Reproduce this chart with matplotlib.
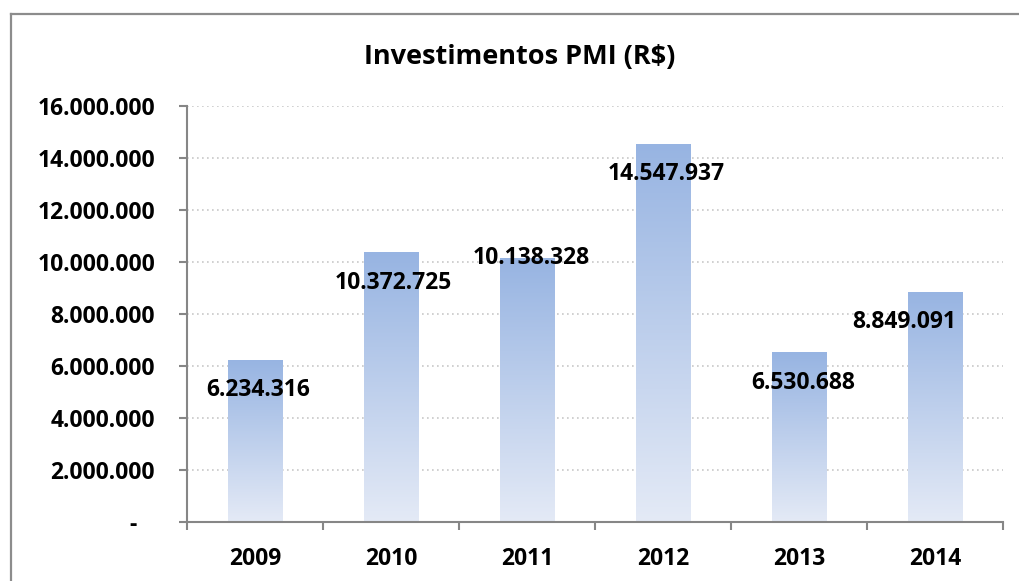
import numpy as np
import matplotlib
matplotlib.use("Agg")
import matplotlib.pyplot as plt
from matplotlib.lines import Line2D
from matplotlib.colors import LinearSegmentedColormap
from matplotlib.ticker import FixedLocator

plt.rcParams["font.family"] = ["Open Sans", "DejaVu Sans"]
plt.rcParams["font.weight"] = "bold"

# data
years = ["2009", "2010", "2011", "2012", "2013", "2014"]
values = [6234316, 10372725, 10138328, 14547937, 6530688, 8849091]
y_ticks = [0, 2e6, 4e6, 6e6, 8e6, 10e6, 12e6, 14e6, 16e6]
title = "Investimentos PMI (R$)"

# label nudges in points (dx, dy) relative to bar top
label_offsets = [(2, -22), (2, -22), (3, 0), (2, -22), (3, -22), (-22, -22)]


def fmt_br(v):
    if v == 0:
        return "-   "
    return f"{int(v):,}".replace(",", ".")


fig = plt.figure(figsize=(10.19, 5.81), dpi=100)
ax = fig.add_axes([0.1835, 0.1015, 0.8008, 0.7161])

# outer chart frame (left + top edges only visible in crop)
fx, fy = 0.0108, 0.976
for xs, ys in [([fx, fx], [-0.1, fy]), ([fx, 1.1], [fy, fy])]:
    fig.lines.append(Line2D(xs, ys, transform=fig.transFigure,
                            color="#8C8C8C", linewidth=1.6, zorder=0))

cmap = LinearSegmentedColormap.from_list("bar", ["#E4EAF6", "#97B4E2"])
grad = np.linspace(0, 1, 256).reshape(-1, 1)
x = np.arange(len(years))
width = 0.40
bars = ax.bar(x, values, width=width, color="none", edgecolor="none", zorder=2)
for b in bars:
    x0, w, h = b.get_x(), b.get_width(), b.get_height()
    im = ax.imshow(grad, cmap=cmap, origin="lower", aspect="auto",
                   extent=(x0, x0 + w, 0, h), zorder=2)
    im.set_clip_path(b)

for i, (b, v) in enumerate(zip(bars, values)):
    dx, dy = label_offsets[i]
    ax.annotate(fmt_br(v), (b.get_x() + b.get_width() / 2, v),
                xytext=(dx, dy), textcoords="offset points",
                ha="center", va="center", fontsize=16.5, fontweight="bold",
                color="black", zorder=4)

ax.set_xlim(-0.5, len(years) - 0.5)
ax.set_ylim(0, 16e6)
ax.set_yticks(y_ticks)
ax.set_yticklabels([fmt_br(t) for t in y_ticks], fontsize=16.5, fontweight="bold")
ax.set_xticks(x)
ax.set_xticklabels(years, fontsize=16.5, fontweight="bold")
ax.xaxis.set_minor_locator(FixedLocator(np.arange(-0.5, len(years), 1.0)))
ax.tick_params(axis="x", which="major", length=0, pad=18)
ax.tick_params(axis="x", which="minor", length=6, width=1.5, color="#868686")
ax.tick_params(axis="y", length=6, width=1.5, color="#868686", pad=17)

ax.grid(axis="y", linestyle=(0, (1, 2)), color="#C8C8C8", linewidth=1.2, zorder=1)
ax.set_axisbelow(True)
for s in ["top", "right"]:
    ax.spines[s].set_visible(False)
for s in ["left", "bottom"]:
    ax.spines[s].set_color("#868686")
    ax.spines[s].set_linewidth(1.5)

fig.text(0.51, 0.902, title, ha="center", va="center", fontsize=19.5, fontweight="bold")

fig.savefig("out.png", dpi=100)
